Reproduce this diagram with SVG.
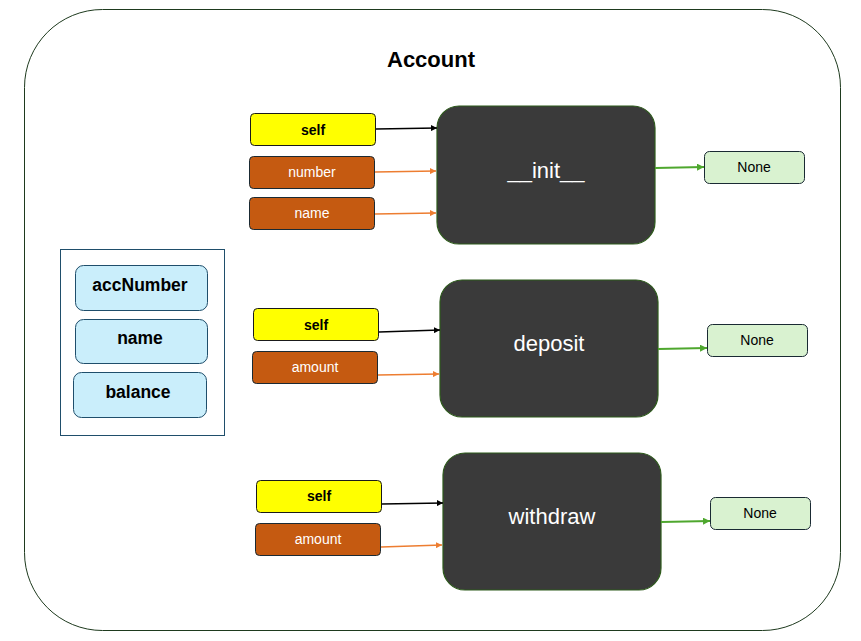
<svg xmlns="http://www.w3.org/2000/svg" width="861" height="641" viewBox="0 0 861 641">
<style>
text{font-family:"Liberation Sans",Arial,sans-serif;text-anchor:middle;dominant-baseline:central}
.attr{fill:#caeefb;stroke:#1f4e6b;stroke-width:1}
.attrt{font-size:17.5px;font-weight:bold;fill:#000}
.fn{fill:#3a3a3a;stroke:#2d5a1b;stroke-width:1.2}
.fnt{font-size:22px;fill:#fff}
.self{fill:#ffff00;stroke:#1a1a1a;stroke-width:1}
.selft{font-size:14px;font-weight:bold;fill:#000}
.par{fill:#c55a11;stroke:#1a2a33;stroke-width:1}
.part{font-size:14px;fill:#fff}
.none{fill:#d9f2d0;stroke:#1a2a33;stroke-width:1}
.nonet{font-size:14px;fill:#000}
.ak{stroke:#000;stroke-width:1.5;fill:none}
.ao{stroke:#ed7d31;stroke-width:1.5;fill:none}
.ag{stroke:#4ea72e;stroke-width:2;fill:none}
</style>
<defs>
<marker id="mk" viewBox="0 0 10 10" refX="10" refY="5" markerWidth="6" markerHeight="6" orient="auto" markerUnits="userSpaceOnUse"><path d="M0,0L10,5L0,10z" fill="#000"/></marker>
<marker id="mo" viewBox="0 0 10 10" refX="10" refY="5" markerWidth="6" markerHeight="6" orient="auto" markerUnits="userSpaceOnUse"><path d="M0,0L10,5L0,10z" fill="#ed7d31"/></marker>
<marker id="mg" viewBox="0 0 10 10" refX="10" refY="5" markerWidth="7" markerHeight="7" orient="auto" markerUnits="userSpaceOnUse"><path d="M0,0L10,5L0,10z" fill="#4ea72e"/></marker>
</defs>
<rect width="861" height="641" fill="#fff"/>
<g id="account">
<rect x="24.5" y="9.5" width="816" height="621" rx="78" fill="#fff" stroke="#1e3a1e" stroke-width="1"/>
<text x="431" y="59" style="font-size:22px;font-weight:bold">Account</text>
</g>
<g id="attributes">
<rect x="60.5" y="249.5" width="164" height="186" fill="#fff" stroke="#1f4e6b" stroke-width="1"/>
<rect class="attr" x="75.5" y="265.5" width="132" height="45" rx="8"/>
<text class="attrt" x="140" y="285">accNumber</text>
<rect class="attr" x="75.5" y="319.5" width="132" height="44" rx="8"/>
<text class="attrt" x="140" y="338">name</text>
<rect class="attr" x="73.5" y="372.5" width="133" height="45" rx="8"/>
<text class="attrt" x="138" y="392">balance</text>
</g>
<g id="init">
<rect class="fn" x="437" y="106" width="218" height="138" rx="22"/>
<text class="fnt" x="546" y="170">__init__</text>
</g>
<g id="deposit">
<rect class="fn" x="440" y="280" width="218" height="137" rx="22"/>
<text class="fnt" x="549" y="343">deposit</text>
</g>
<g id="withdraw">
<rect class="fn" x="443" y="453" width="218" height="137" rx="22"/>
<text class="fnt" x="552" y="516">withdraw</text>
</g>
<g id="init-self"><rect class="self" x="250.5" y="113.5" width="125" height="32" rx="4"/><text class="selft" x="313" y="130">self</text></g>
<g id="init-number"><rect class="par" x="249.5" y="156.5" width="125" height="32" rx="4"/><text class="part" x="312" y="172">number</text></g>
<g id="init-name"><rect class="par" x="249.5" y="197.5" width="125" height="32" rx="4"/><text class="part" x="312" y="213">name</text></g>
<g id="deposit-self"><rect class="self" x="253.5" y="308.5" width="125" height="32" rx="4"/><text class="selft" x="316" y="325">self</text></g>
<g id="deposit-amount"><rect class="par" x="252.5" y="351.5" width="125" height="32" rx="4"/><text class="part" x="315" y="367">amount</text></g>
<g id="withdraw-self"><rect class="self" x="256.5" y="480.5" width="125" height="32" rx="4"/><text class="selft" x="319" y="496">self</text></g>
<g id="withdraw-amount"><rect class="par" x="255.5" y="523.5" width="125" height="32" rx="4"/><text class="part" x="318" y="539">amount</text></g>
<g id="init-none"><rect class="none" x="704.5" y="151.5" width="100" height="32" rx="5"/><text class="nonet" x="754" y="167">None</text></g>
<g id="deposit-none"><rect class="none" x="707.5" y="324.5" width="100" height="32" rx="5"/><text class="nonet" x="757" y="340">None</text></g>
<g id="withdraw-none"><rect class="none" x="710.5" y="497.5" width="100" height="32" rx="5"/><text class="nonet" x="760" y="513">None</text></g>
<g id="connectors">
<path class="ak" d="M376,129L437,128" marker-end="url(#mk)"/>
<path class="ao" d="M375,172L436,171" marker-end="url(#mo)"/>
<path class="ao" d="M375,214L436,213" marker-end="url(#mo)"/>
<path class="ak" d="M379,332L440,330" marker-end="url(#mk)"/>
<path class="ao" d="M378,375L439,374" marker-end="url(#mo)"/>
<path class="ak" d="M382,504L443,503" marker-end="url(#mk)"/>
<path class="ao" d="M381,547L442,545" marker-end="url(#mo)"/>
<path class="ag" d="M655,168L704,167" marker-end="url(#mg)"/>
<path class="ag" d="M658,349L707,348" marker-end="url(#mg)"/>
<path class="ag" d="M661,522L710,521" marker-end="url(#mg)"/>
</g>
</svg>
